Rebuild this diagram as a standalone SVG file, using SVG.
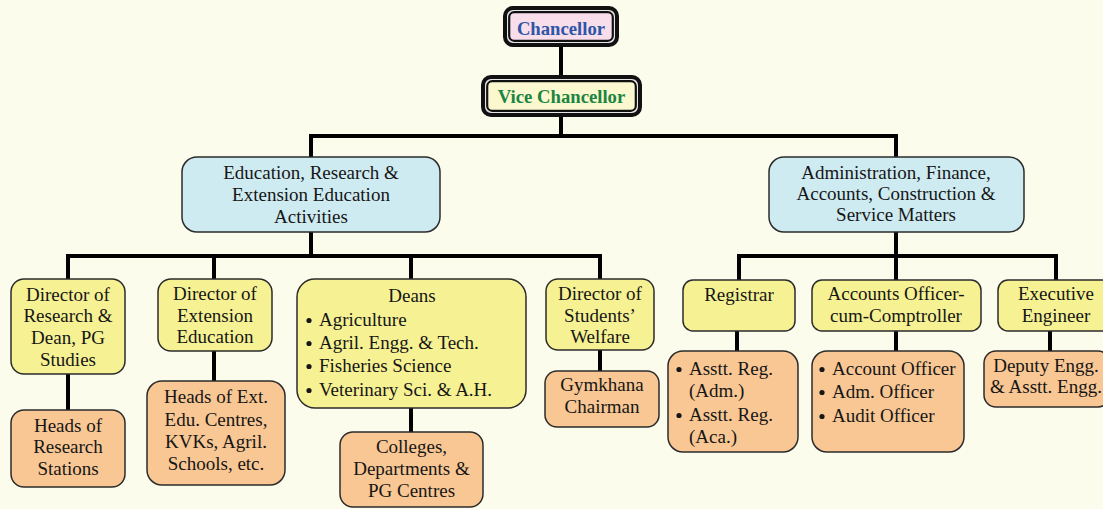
<svg xmlns="http://www.w3.org/2000/svg" width="1103" height="509" viewBox="0 0 1103 509">
<style>
.t{font-family:"Liberation Serif","Times New Roman",serif;font-size:19px;fill:#161616;text-anchor:middle}
.l{text-anchor:start}
.b{font-family:"Liberation Serif","Times New Roman",serif;font-size:18.7px;font-weight:bold;text-anchor:middle}
.blue{fill:#CFEBF2;stroke:#2b2b2b;stroke-width:1.5}
.yel{fill:#F6F294;stroke:#2b2b2b;stroke-width:1.5}
.org{fill:#F9C794;stroke:#2b2b2b;stroke-width:1.5}
.con{fill:none;stroke:#000;stroke-width:4}
.dot{fill:#161616}
</style>
<rect width="1103" height="509" fill="#FBFCEB"/>
<g id="connectors">
<path class="con" d="M561 47V75M561 117V136M311 157V136H896V157"/>
<path class="con" d="M311 232V256M68 279V256H600V279M214 256V279M411 256V279"/>
<path class="con" d="M68 374V410M214 351V381M411 408V432M600 350V371"/>
<path class="con" d="M896 232V256M739 280V256H1056V280M896 256V280"/>
<path class="con" d="M737 331V351M896 331V351M1050 331V351"/>
</g>
<g id="chancellor">
<rect x="505" y="8" width="112" height="37" rx="8" fill="#e6e6e6" stroke="#111" stroke-width="4"/>
<rect x="509.2" y="12.2" width="103.6" height="28.6" rx="5" fill="#F8DDEB" stroke="#111" stroke-width="2.2"/>
<text class="b" x="561" y="35" fill="#2E55A6">Chancellor</text>
</g>
<g id="vice-chancellor">
<rect x="483" y="77" width="157" height="38" rx="8" fill="#e6e6e6" stroke="#111" stroke-width="4"/>
<rect x="487.2" y="81.2" width="148.6" height="29.6" rx="5" fill="#FBF8CF" stroke="#111" stroke-width="2.2"/>
<text class="b" x="561.5" y="103" fill="#1C8443">Vice Chancellor</text>
</g>
<g id="education">
<rect class="blue" x="182" y="157" width="258" height="75" rx="15"/>
<text class="t" x="311" y="179">Education, Research &amp;</text>
<text class="t" x="311" y="201">Extension Education</text>
<text class="t" x="311" y="223">Activities</text>
</g>
<g id="administration">
<rect class="blue" x="769" y="157" width="255" height="75" rx="15"/>
<text class="t" x="896" y="179">Administration, Finance,</text>
<text class="t" x="896" y="200">Accounts, Construction &amp;</text>
<text class="t" x="896" y="221">Service Matters</text>
</g>
<g id="dir-research">
<rect class="yel" x="11" y="279" width="114" height="95" rx="13"/>
<text class="t" x="68" y="301">Director of</text>
<text class="t" x="68" y="322">Research &amp;</text>
<text class="t" x="68" y="344">Dean, PG</text>
<text class="t" x="68" y="366">Studies</text>
</g>
<g id="dir-extension">
<rect class="yel" x="158" y="279" width="114" height="72" rx="13"/>
<text class="t" x="215" y="300">Director of</text>
<text class="t" x="215" y="322">Extension</text>
<text class="t" x="215" y="343">Education</text>
</g>
<g id="deans">
<rect class="yel" x="297" y="279" width="229" height="129" rx="18"/>
<text class="t" x="412" y="302">Deans</text>
<circle class="dot" cx="309" cy="320.5" r="2.6"/>
<circle class="dot" cx="309" cy="343.5" r="2.6"/>
<circle class="dot" cx="309" cy="366.5" r="2.6"/>
<circle class="dot" cx="309" cy="390.5" r="2.6"/>
<text class="t l" x="319" y="326">Agriculture</text>
<text class="t l" x="319" y="349">Agril. Engg. &amp; Tech.</text>
<text class="t l" x="319" y="372">Fisheries Science</text>
<text class="t l" x="319" y="396">Veterinary Sci. &amp; A.H.</text>
</g>
<g id="dir-students">
<rect class="yel" x="546" y="279" width="108" height="71" rx="12"/>
<text class="t" x="600" y="300">Director of</text>
<text class="t" x="600" y="322">Students’</text>
<text class="t" x="600" y="343">Welfare</text>
</g>
<g id="heads-research">
<rect class="org" x="11" y="410" width="114" height="77" rx="13"/>
<text class="t" x="68" y="432">Heads of</text>
<text class="t" x="68" y="453">Research</text>
<text class="t" x="68" y="475">Stations</text>
</g>
<g id="heads-ext">
<rect class="org" x="147" y="381" width="138" height="104" rx="15"/>
<text class="t" x="216" y="403">Heads of Ext.</text>
<text class="t" x="216" y="426">Edu. Centres,</text>
<text class="t" x="216" y="448">KVKs, Agril.</text>
<text class="t" x="216" y="470">Schools, etc.</text>
</g>
<g id="colleges">
<rect class="org" x="340" y="432" width="143" height="75" rx="13"/>
<text class="t" x="411.5" y="453">Colleges,</text>
<text class="t" x="411.5" y="475">Departments &amp;</text>
<text class="t" x="411.5" y="497">PG Centres</text>
</g>
<g id="gymkhana">
<rect class="org" x="545" y="371" width="114" height="56" rx="12"/>
<text class="t" x="602" y="391">Gymkhana</text>
<text class="t" x="602" y="413">Chairman</text>
</g>
<g id="registrar">
<rect class="yel" x="683" y="280" width="112" height="51" rx="10"/>
<text class="t" x="739" y="301">Registrar</text>
</g>
<g id="accounts-officer">
<rect class="yel" x="812" y="280" width="169" height="51" rx="10"/>
<text class="t" x="896" y="300">Accounts Officer-</text>
<text class="t" x="896" y="322">cum-Comptroller</text>
</g>
<g id="executive-engineer">
<rect class="yel" x="998" y="280" width="116" height="51" rx="10"/>
<text class="t" x="1056" y="300">Executive</text>
<text class="t" x="1056" y="322">Engineer</text>
</g>
<g id="asstt-reg">
<rect class="org" x="668" y="351" width="130" height="101" rx="15"/>
<circle class="dot" cx="679" cy="369.5" r="2.6"/>
<circle class="dot" cx="679" cy="415.5" r="2.6"/>
<text class="t l" x="689" y="375">Asstt. Reg.</text>
<text class="t l" x="689" y="397">(Adm.)</text>
<text class="t l" x="689" y="421">Asstt. Reg.</text>
<text class="t l" x="689" y="443">(Aca.)</text>
</g>
<g id="account-officers">
<rect class="org" x="812" y="351" width="152" height="101" rx="15"/>
<circle class="dot" cx="822" cy="369.5" r="2.6"/>
<circle class="dot" cx="822" cy="392.5" r="2.6"/>
<circle class="dot" cx="822" cy="416.5" r="2.6"/>
<text class="t l" x="832" y="375">Account Officer</text>
<text class="t l" x="832" y="398">Adm. Officer</text>
<text class="t l" x="832" y="422">Audit Officer</text>
</g>
<g id="deputy-engg">
<rect class="org" x="984" y="351" width="126" height="56" rx="12"/>
<text class="t" x="1046" y="372">Deputy Engg.</text>
<text class="t" x="1046" y="393">&amp; Asstt. Engg.</text>
</g>
</svg>
